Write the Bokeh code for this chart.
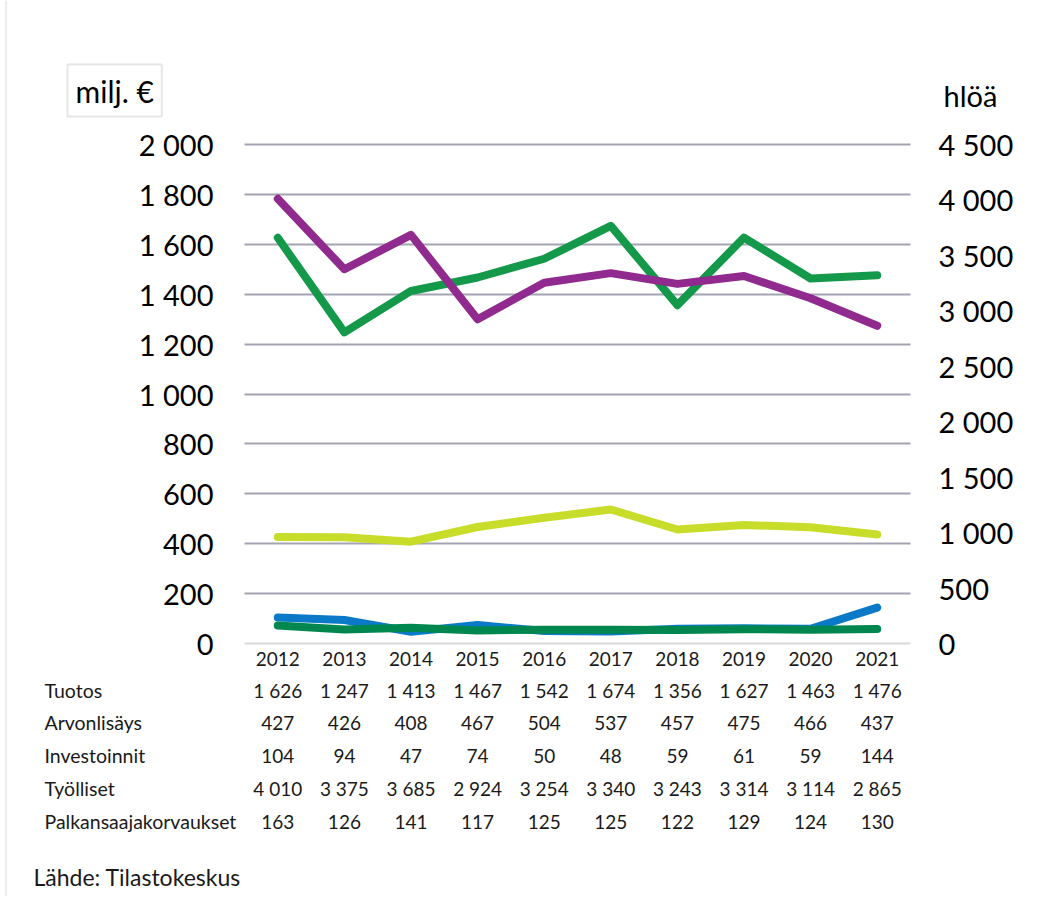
from bokeh.plotting import figure
from bokeh.models import Range1d, LinearAxis, FixedTicker, ColumnDataSource, LabelSet, Label, Span
from bokeh.core.properties import value
from bokeh.embed import file_html
from bokeh.resources import INLINE

years = [2012, 2013, 2014, 2015, 2016, 2017, 2018, 2019, 2020, 2021]
tuotos = [1626, 1247, 1413, 1467, 1542, 1674, 1356, 1627, 1463, 1476]
arvonlisays = [427, 426, 408, 467, 504, 537, 457, 475, 466, 437]
investoinnit = [104, 94, 47, 74, 50, 48, 59, 61, 59, 144]
tyolliset = [4010, 3375, 3685, 2924, 3254, 3340, 3243, 3314, 3114, 2865]
palkansaaja = [163, 126, 141, 117, 125, 125, 122, 129, 124, 130]
row_names = ["Tuotos", "Arvonlisäys", "Investoinnit", "Työlliset", "Palkansaajakorvaukset"]
left_ticks = [0, 200, 400, 600, 800, 1000, 1200, 1400, 1600, 1800, 2000]
right_ticks = [0, 500, 1000, 1500, 2000, 2500, 3000, 3500, 4000, 4500]
left_title = "milj. €"
right_title = "hlöä"
source_note = "Lähde: Tilastokeskus"

FONT = "Lato"
TXT = "#1a1a1a"
GRID = "#a3a3b1"

def fmt(v):
    return f"{v:,}".replace(",", " ")

# ---- layout (canvas pixels) ----
W, H = 1050, 896
FL, FR, FT, FB = 244, 910, 144, 643   # chart area edges
ppx = (FR - FL) / len(years)
ppy = (FB - FT) / left_ticks[-1]
x0 = years[0] - 0.5
x1 = years[-1] + 0.5
def xd(cx):   # canvas x -> data x
    return x0 + (cx - FL) / ppx
def yd(cy):   # canvas y (from top) -> left data y
    return (FB - cy) / ppy
rscale = right_ticks[-1] / left_ticks[-1]

p = figure(width=W, height=H, x_range=Range1d(xd(0), xd(W)), y_range=Range1d(yd(H), yd(0)),
           output_backend="svg", toolbar_location=None,
           x_axis_location=None, y_axis_location=None,
           min_border=0, min_border_left=0, min_border_right=0, min_border_top=0, min_border_bottom=0,
           outline_line_color=None, background_fill_color="white", border_fill_color="white")
p.extra_y_ranges = {"r": Range1d(yd(H) * rscale, yd(0) * rscale)}
p.xgrid.visible = False
p.ygrid.visible = False

def style(ax, size):
    ax.axis_line_color = None
    ax.major_tick_line_color = None
    ax.minor_tick_line_color = None
    ax.major_tick_out = 0
    ax.major_tick_in = 0
    ax.major_label_text_font = FONT
    ax.major_label_text_font_size = size

# horizontal gridlines drawn as long ticks of a label-less axis
gax = LinearAxis(ticker=FixedTicker(ticks=left_ticks[1:]), fixed_location=x0)
style(gax, "1px")
gax.major_label_overrides = {t: "" for t in left_ticks[1:]}
gax.major_tick_in = FR - FL
gax.major_tick_line_color = GRID
gax.major_tick_line_width = 2
gax.level = "underlay"
p.add_layout(gax, "left")

ya = LinearAxis(ticker=FixedTicker(ticks=left_ticks), fixed_location=x0)
style(ya, "29px")
ya.major_label_overrides = {t: fmt(t) for t in left_ticks}
ya.major_label_standoff = 31
ya.major_label_text_color = "#000000"
p.add_layout(ya, "left")

ra = LinearAxis(y_range_name="r", ticker=FixedTicker(ticks=right_ticks), fixed_location=x1)
style(ra, "29px")
ra.major_label_overrides = {t: fmt(t) for t in right_ticks}
ra.major_label_standoff = 28
ra.major_label_text_color = "#000000"
p.add_layout(ra, "right")

xa = LinearAxis(ticker=FixedTicker(ticks=years), fixed_location=0, bounds=(x0, x1))
style(xa, "19px")
xa.major_label_overrides = {y: str(y) for y in years}
xa.axis_line_color = "#d9d9d9"
xa.axis_line_width = 2
xa.major_label_standoff = 8
xa.major_label_text_color = TXT
p.add_layout(xa, "below")

kw = dict(line_width=8, line_cap="round", line_join="round")
p.line(years, tuotos, color="#14994b", **kw)
p.line(years, arvonlisays, color="#c8dc2a", **kw)
p.line(years, investoinnit, color="#0a7ac8", **kw)
p.line(years, tyolliset, color="#912a8e", y_range_name="r", **kw)
p.line(years, palkansaaja, color="#00874f", y_range_name="r", **kw)

# ---- data table ----
rows = [tuotos, arvonlisays, investoinnit, tyolliset, palkansaaja]
row_cy = [690, 722, 755, 788, 821]
for vals, cy in zip(rows, row_cy):
    src = ColumnDataSource(dict(x=years, y=[yd(cy)] * len(years), t=[fmt(v) for v in vals]))
    p.add_layout(LabelSet(x="x", y="y", text="t", source=src, text_align="center",
                          text_baseline="middle", text_font=value(FONT),
                          text_font_size=value("19px"), text_color=TXT))
name_src = ColumnDataSource(dict(x=[xd(44)] * len(row_names), y=[yd(c) for c in row_cy], t=row_names))
p.add_layout(LabelSet(x="x", y="y", text="t", source=name_src, text_align="left",
                      text_baseline="middle", text_font=value(FONT),
                      text_font_size=value("19.5px"), text_color=TXT))

p.add_layout(Label(x=xd(33), y=yd(876), text=source_note, text_align="left", text_baseline="middle",
                   text_font=FONT, text_font_size="23px", text_color=TXT))
p.add_layout(Label(x=xd(67), y=yd(90), text=left_title, text_align="left", text_baseline="middle",
                   text_font=FONT, text_font_size="30px", text_color="#000000",
                   border_line_color="#e6e6e6", border_line_width=2, padding=8,
                   background_fill_color="white"))
p.add_layout(Label(x=xd(943), y=yd(95), text=right_title, text_align="left", text_baseline="middle",
                   text_font=FONT, text_font_size="29px", text_color="#000000"))
p.add_layout(Span(location=xd(5.5), dimension="height", line_color="#d9d9d9", line_width=1))

open("out.html", "w").write(file_html(p, INLINE))
